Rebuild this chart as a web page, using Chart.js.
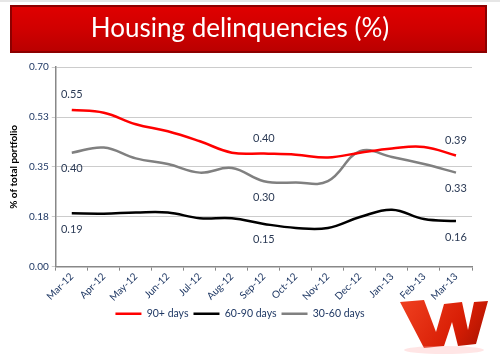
<!DOCTYPE html>
<html>
<head>
<meta charset="utf-8">
<script src="https://cdn.jsdelivr.net/npm/chart.js@4.4.0/dist/chart.umd.min.js"></script>
<style>
  html, body { margin: 0; padding: 0; background: #ffffff; }
  #wrap { width: 500px; height: 355px; position: relative; }
</style>
</head>
<body>
<div id="wrap"><canvas id="c" width="500" height="355"></canvas></div>
<script>
const categories = ['Mar-12','Apr-12','May-12','Jun-12','Jul-12','Aug-12','Sep-12','Oct-12','Nov-12','Dec-12','Jan-13','Feb-13','Mar-13'];
const days90plus = [0.55, 0.54, 0.50, 0.475, 0.44, 0.40, 0.397, 0.393, 0.383, 0.40, 0.415, 0.42, 0.39];
const days60to90 = [0.187, 0.186, 0.19, 0.19, 0.17, 0.17, 0.15, 0.136, 0.136, 0.174, 0.20, 0.167, 0.16];
const days30to60 = [0.40, 0.418, 0.38, 0.36, 0.33, 0.346, 0.30, 0.295, 0.30, 0.405, 0.385, 0.36, 0.33];
const yTickLabels = ['0.00', '0.18', '0.35', '0.53', '0.70'];
const labelledPoints = [0, 6, 12];

const FONT = 'Lato, "Open Sans", sans-serif';
const NAVY = '#1f3864';

const bannerPlugin = {
  id: 'banner',
  beforeDraw(chart) {
    const ctx = chart.ctx;
    const tb = chart.titleBlock;
    const x = 10, w = 477, y = tb.top, h = 48;
    ctx.save();
    ctx.fillStyle = '#e6e6e6';
    ctx.fillRect(0, 0, chart.width, 2);
    const g = ctx.createLinearGradient(0, y, 0, y + h);
    g.addColorStop(0, '#e00000');
    g.addColorStop(0.5, '#d00000');
    g.addColorStop(1, '#b80000');
    ctx.fillStyle = g;
    ctx.fillRect(x, y, w, h);
    ctx.strokeStyle = '#8c0000';
    ctx.lineWidth = 2;
    ctx.strokeRect(x + 1, y + 1, w - 2, h - 2);
    ctx.restore();
  }
};

const valueLabelPlugin = {
  id: 'valueLabels',
  afterDatasetsDraw(chart) {
    const ctx = chart.ctx;
    ctx.save();
    ctx.font = '11px ' + FONT;
    ctx.fillStyle = '#2b3a55';
    ctx.textAlign = 'center';
    ctx.textBaseline = 'middle';
    chart.data.datasets.forEach((ds, di) => {
      const meta = chart.getDatasetMeta(di);
      labelledPoints.forEach(i => {
        const pt = meta.data[i];
        const off = ds.labelAbove ? -15 : 16;
        ctx.fillText(ds.data[i].toFixed(2), pt.x, pt.y + off);
      });
    });
    ctx.restore();
  }
};

const logoPlugin = {
  id: 'logo',
  afterDraw(chart) {
    const ctx = chart.ctx;
    ctx.save();
    const g = ctx.createLinearGradient(400, 300, 488, 355);
    g.addColorStop(0, '#f04020');
    g.addColorStop(0.6, '#d81e05');
    g.addColorStop(1, '#a01000');
    ctx.fillStyle = g;
    ctx.beginPath();
    ctx.moveTo(400, 302);
    ctx.lineTo(424, 300);
    ctx.lineTo(436, 332);
    ctx.lineTo(444, 304);
    ctx.lineTo(462, 302);
    ctx.lineTo(468, 330);
    ctx.lineTo(474, 302);
    ctx.lineTo(488, 301);
    ctx.lineTo(476, 344);
    ctx.lineTo(458, 346);
    ctx.lineTo(452, 322);
    ctx.lineTo(444, 346);
    ctx.lineTo(424, 348);
    ctx.closePath();
    ctx.fill();
    ctx.fillStyle = 'rgba(255,180,180,0.35)';
    ctx.beginPath();
    ctx.ellipse(444, 350, 40, 4, 0, 0, Math.PI * 2);
    ctx.fill();
    ctx.restore();
  }
};

new Chart(document.getElementById('c'), {
  type: 'line',
  data: {
    labels: categories,
    datasets: [
      { label: '90+ days', data: days90plus, borderColor: '#ff0000', backgroundColor: '#ff0000', borderWidth: 2.5, pointRadius: 0, tension: 0.4, labelAbove: true },
      { label: '60-90 days', data: days60to90, borderColor: '#000000', backgroundColor: '#000000', borderWidth: 2.5, pointRadius: 0, tension: 0.4, labelAbove: false },
      { label: '30-60 days', data: days30to60, borderColor: '#808080', backgroundColor: '#808080', borderWidth: 2.5, pointRadius: 0, tension: 0.4, labelAbove: false }
    ]
  },
  options: {
    responsive: false,
    animation: false,
    devicePixelRatio: 1,
    layout: { padding: { top: 5, left: 8, right: 28, bottom: 26 } },
    plugins: {
      title: {
        display: true,
        text: 'Housing delinquencies (%)',
        color: '#ffffff',
        font: { family: FONT, size: 26, weight: 'normal' },
        padding: { top: 8, bottom: 23 }
      },
      legend: {
        display: true,
        position: 'bottom',
        labels: {
          usePointStyle: true,
          pointStyle: 'line',
          pointStyleWidth: 26,
          color: NAVY,
          font: { family: FONT, size: 10.5 },
          padding: 5
        }
      },
      tooltip: { enabled: false }
    },
    scales: {
      x: {
        offset: true,
        grid: { display: true, drawOnChartArea: false, drawTicks: true, tickLength: 4, color: '#888888', offset: true },
        border: { display: true, color: '#888888', width: 1.5 },
        ticks: { color: NAVY, font: { family: FONT, size: 10 }, maxRotation: 45, minRotation: 45, padding: 0, autoSkip: false }
      },
      y: {
        min: 0,
        max: 0.70,
        grid: { color: '#cccccc', lineWidth: 1, drawTicks: true, tickLength: 4 },
        border: { display: true, color: '#888888', width: 1.5 },
        ticks: {
          stepSize: 0.175,
          color: NAVY,
          font: { family: FONT, size: 10 },
          padding: 3,
          callback: (v, i) => yTickLabels[i]
        },
        title: {
          display: true,
          text: '% of total portfolio',
          color: '#000000',
          font: { family: FONT, size: 10, weight: 'bold' },
          padding: { top: 0, bottom: 6 }
        }
      }
    }
  },
  plugins: [bannerPlugin, valueLabelPlugin, logoPlugin]
});
</script>
</body>
</html>
